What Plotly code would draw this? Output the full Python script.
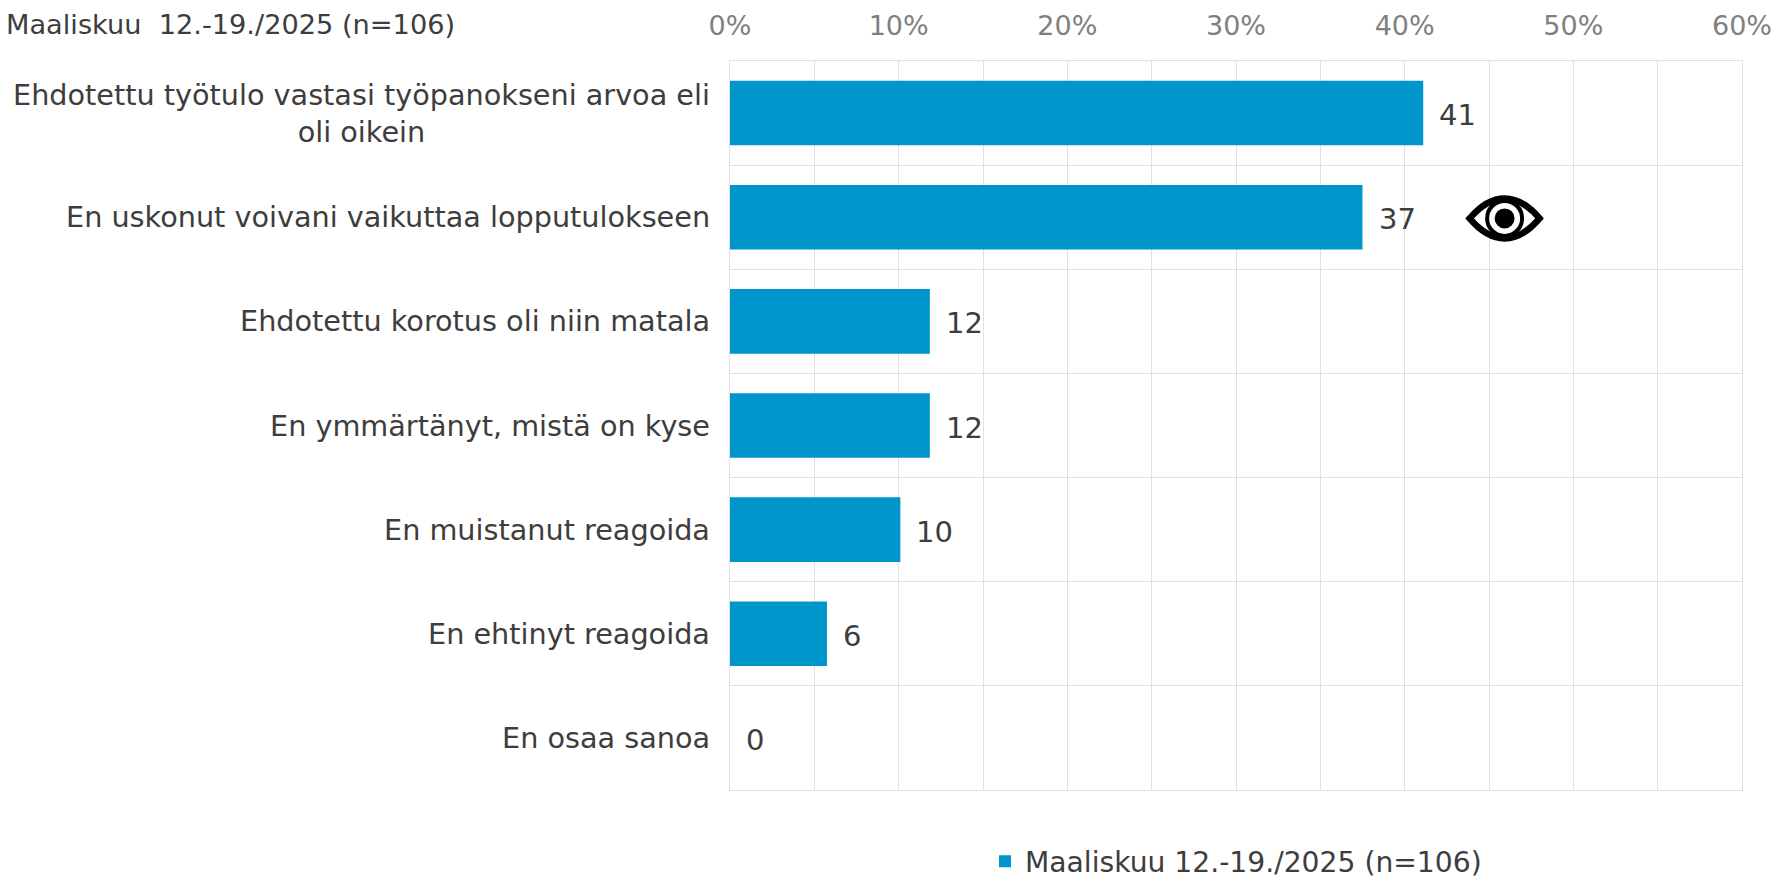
import plotly.graph_objects as go

categories = [
    "Ehdotettu työtulo vastasi työpanokseni arvoa eli<br>oli oikein",
    "En uskonut voivani vaikuttaa lopputulokseen",
    "Ehdotettu korotus oli niin matala",
    "En ymmärtänyt, mistä on kyse",
    "En muistanut reagoida",
    "En ehtinyt reagoida",
    "En osaa sanoa",
]
values = [41.1, 37.5, 11.85, 11.85, 10.1, 5.75, 0]
value_labels = ["41", "37", "12", "12", "10", "6", "0"]
series_name = "Maaliskuu 12.-19./2025 (n=106)"
corner_title = "Maaliskuu\u00a0 12.-19./2025 (n=106)"
x_ticks = [0, 10, 20, 30, 40, 50, 60]
x_tick_labels = ["0%", "10%", "20%", "30%", "40%", "50%", "60%"]

FONT = "DejaVu Sans, Verdana, sans-serif"
DARK = "#3d3d3d"
GRID = "#e0e0e0"
BLUE = "#0095cb"

positions = list(range(len(categories)))
W, H = 1776, 877
L, R, T, B = 729.5, 34, 60.5, 87

def px(x): return (x - L) / (W - L - R)
def py(y): return 1 - (y - T) / (H - T - B)

fig = go.Figure(go.Bar(
    x=values, y=positions, orientation="h", width=0.62,
    marker=dict(color=BLUE, line=dict(width=0)),
    name=series_name, showlegend=True, hoverinfo="skip",
))

for pos, cat, val, lab in zip(positions, categories, values, value_labels):
    fig.add_annotation(xref="paper", x=px(711), y=pos, yref="y", text=cat, showarrow=False,
                       xanchor="right", align="center",
                       font=dict(family=FONT, size=28.7, color=DARK))
    fig.add_annotation(x=val, y=pos, xref="x", yref="y", text=lab, showarrow=False,
                       xanchor="left", xshift=14, yshift=-2, font=dict(family=FONT, size=29, color=DARK))

fig.add_annotation(xref="paper", yref="paper", x=px(3), y=py(24), yanchor="middle", xanchor="left",
                   text=corner_title, showarrow=False,
                   font=dict(family=FONT, size=27.2, color=DARK))

# Eye icon next to the second bar
cx, cy = 1504.5, 218
def P(dx, dy): return f"{px(cx + dx):.5f},{py(cy + dy):.5f}"
outer = (f"M{P(-35,0)} C{P(-24,-13)} {P(-13,-20)} {P(0,-20)} C{P(13,-20)} {P(24,-13)} {P(35,0)} "
         f"C{P(24,13)} {P(13,20)} {P(0,20)} C{P(-13,20)} {P(-24,13)} {P(-35,0)} Z")
fig.add_shape(type="path", xref="paper", yref="paper", path=outer, fillcolor="white",
              line=dict(color="black", width=6.5))
fig.add_shape(type="circle", xref="paper", yref="paper",
              x0=px(cx - 17.5), x1=px(cx + 17.5), y0=py(cy + 17.5), y1=py(cy - 17.5),
              fillcolor="white", line=dict(color="black", width=4))
fig.add_shape(type="circle", xref="paper", yref="paper",
              x0=px(cx - 10), x1=px(cx + 10), y0=py(cy + 10), y1=py(cy - 10),
              fillcolor="black", line=dict(color="black", width=0))

fig.update_layout(
    width=W, height=H, paper_bgcolor="white", plot_bgcolor="white",
    margin=dict(l=L, r=R, t=T, b=B, pad=0, autoexpand=False),
    font=dict(family=FONT, color=DARK),
    barmode="overlay",
    legend=dict(orientation="h", xref="container", yref="container",
                x=(1001 - 16) / W, xanchor="left", y=1 - (861.5 / H), yanchor="middle",
                bgcolor="rgba(0,0,0,0)", font=dict(family=FONT, size=28.2, color=DARK),
                itemwidth=30),
    xaxis=dict(
        range=[0, 60], side="top", tickvals=x_ticks, ticktext=x_tick_labels,
        tickfont=dict(family=FONT, size=27, color="#7f7f7f"),
        showgrid=True, gridcolor=GRID, gridwidth=1, zeroline=False, ticks="", ticklabelstandoff=14,
        minor=dict(dtick=5, tick0=0, showgrid=True, gridcolor=GRID, gridwidth=1, ticks=""),
        showline=True, linecolor=GRID, linewidth=1, mirror=True, layer="below traces",
    ),
    yaxis=dict(
        range=[6.5, -0.5], tickvals=positions, showticklabels=False, showgrid=False, zeroline=False,
        ticks="", minor=dict(dtick=1, tick0=0.5, showgrid=True, gridcolor=GRID, gridwidth=1, ticks=""),
        showline=True, linecolor=GRID, linewidth=1, mirror=True,
    ),
)
fig.write_html("out.html", config={"displayModeBar": False},
               post_script="document.body.style.margin='0';document.documentElement.style.overflow='hidden';")
